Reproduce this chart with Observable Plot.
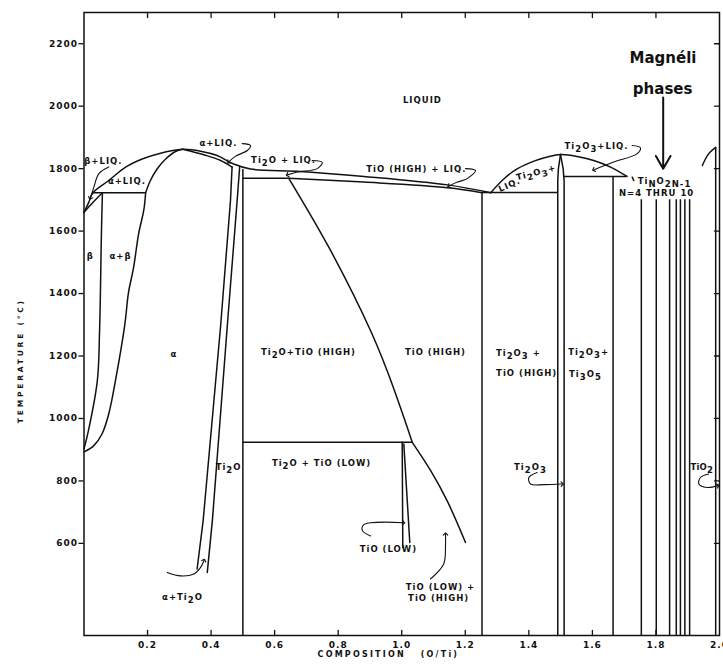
<!DOCTYPE html>
<html><head><meta charset="utf-8">
<script src="https://cdn.jsdelivr.net/npm/d3@7"></script>
<script src="https://cdn.jsdelivr.net/npm/@observablehq/plot@0.6"></script>
<style>
body{margin:0;background:#fff;overflow:hidden}
</style></head><body><div id="chart"></div>
<script>
// Ti–O phase diagram: temperature (°C) against composition (O/Ti atomic ratio)

// Axis ticks
const compTicks = [0.2, 0.4, 0.6, 0.8, 1.0, 1.2, 1.4, 1.6, 1.8, 2.0];
const tempTicks = [600, 800, 1000, 1200, 1400, 1600, 1800, 2000, 2200];
const tMin = 305;

// Curved phase boundaries, points as [O/Ti, °C]
const liquidus = [[0,1660],[0.015,1692],[0.028,1723],[0.078,1762],[0.131,1805],[0.183,1831],[0.235,1848],[0.31,1862],[0.367,1856],[0.419,1842],[0.471,1815],[0.524,1799],[0.681,1791],[0.881,1775],[1.144,1748],[1.28,1723]];
const betaSolidus = [[0,1660],[0.03,1694],[0.058,1723]];
const alphaSolidusLeft = [[0.194,1723],[0.209,1762],[0.230,1799],[0.257,1831],[0.288,1855],[0.31,1862]];
const alphaSolidusRight = [[0.31,1862],[0.382,1843],[0.430,1826],[0.466,1805]];
const betaTransus = [[0.058,1723],[0.055,1602],[0.049,1281],[0.042,1121],[0.014,961],[0,903]];
const alphaBetaBoundary = [[0.194,1723],[0.188,1666],[0.172,1592],[0.156,1483],[0.140,1403],[0.128,1297],[0.099,1121],[0.078,1015],[0.057,951],[0.031,913],[0,893]];
const tioHighSolidus = [[0.6445,1769],[0.881,1757],[1.144,1739],[1.2526,1723]];
const tioHighLeft = [[0.6445,1769],[0.776,1538],[0.902,1281],[0.954,1153],[1.0065,1004],[1.033,923.5]];
const tioLowHigh = [[1.033,923.5],[1.0915,832],[1.143,736],[1.2006,603]];
const ti2o3Liquidus = [[1.28,1723],[1.321,1767],[1.363,1799],[1.416,1824],[1.458,1837],[1.4996,1845],[1.552,1839],[1.604,1826],[1.657,1805],[1.709,1775]];
const tio2Liquidus = [[1.946,1810],[1.966,1848],[1.988,1868]];

// Straight phase boundaries
const alphaBoundary = [[0.466,1805],[0.461,1698],[0.430,1297],[0.375,673],[0.356,518]];
const ti2oLeft = [[0.490,1807],[0.482,1698],[0.451,1297],[0.404,673],[0.388,507]];
const tioLowLeft = [[1.0014,923.5],[1.0033,587]];
const tioLowRight = [[1.0065,918],[1.0253,603]];
const ti2o3Left = [[1.4996,1845],[1.493,1800],[1.491,1760],[1.491,tMin]];
const ti2o3Right = [[1.4996,1845],[1.508,1800],[1.511,1760],[1.511,tMin]];

// Invariant isotherms: [from O/Ti, to O/Ti, °C]
const isotherms = [[0.028,0.194,1723],[0.5,0.6445,1769],[0.5,1.033,923.5],[1.2526,1.491,1723.5],[1.511,1.709,1775]];

// Line compounds drawn down to the bottom of the diagram: [O/Ti, top °C]
const compounds = [[0.5,1797],[1.2526,1723.5],[1.665,1775],[1.988,1868]];
const magneliX = [1.754, 1.801, 1.843, 1.864, 1.877, 1.891, 1.906];
const magneliTop = 1700;

// Label leaders (curved, with arrowheads)
const leaders = {
  betaLiq: [[0.078,1805],[0.047,1784],[0.031,1741],[0.020,1705]],
  alphaLiq: [[0.498,1880],[0.524,1874],[0.514,1858],[0.477,1840],[0.455,1821]],
  ti2oLiq: [[0.718,1826],[0.750,1820],[0.734,1800],[0.671,1789],[0.64,1780]],
  tioHighLiq: [[1.2006,1800],[1.232,1794],[1.206,1768],[1.175,1757],[1.148,1744]],
  alphaTi2o: [[0.262,507],[0.304,496],[0.346,502],[0.367,523],[0.378,546]],
  tioLow: [[0.902,624],[0.876,641],[0.881,660],[1.006,666]],
  tioLowHigh: [[1.0905,486],[1.132,534],[1.1377,592],[1.1377,630]],
  ti2o3: [[1.426,827],[1.400,811],[1.405,790],[1.447,788],[1.505,790]],
  tio2: [[1.966,822],[1.940,811],[1.935,790],[1.961,779],[1.995,785]],
  ti2o3Liq: [[1.725,1874],[1.751,1867],[1.741,1848],[1.667,1821],[1.604,1796]]
};
const tick = [[1.7253,1772.6],[1.7303,1762]];

// Region labels; {…} marks a lowered index
const labels = [
  {x:1.065, t:2018, text:"LIQUID"},
  {x:0.061, t:1823, text:"β+LIQ."},
  {x:0.135, t:1760, text:"α+LIQ."},
  {x:0.423, t:1880, text:"α+LIQ."},
  {x:0.02, t:1518, text:"β"},
  {x:0.115, t:1518, text:"α+β"},
  {x:0.283, t:1207, text:"α"},
  {x:0.455, t:845, text:"Ti{2}O"},
  {x:0.31, t:428, text:"α+Ti{2}O"},
  {x:0.628, t:1828, text:"Ti{2}O + LIQ."},
  {x:1.046, t:1799, text:"TiO (HIGH) + LIQ."},
  {x:0.7065, t:1213, text:"Ti{2}O+TiO (HIGH)"},
  {x:1.106, t:1211, text:"TiO (HIGH)"},
  {x:0.7475, t:857, text:"Ti{2}O + TiO (LOW)"},
  {x:0.958, t:582, text:"TiO (LOW)"},
  {x:1.122, t:460, text:"TiO (LOW) +"},
  {x:1.116, t:425, text:"TiO (HIGH)"},
  {x:1.367, t:1210, text:"Ti{2}O{3} +"},
  {x:1.393, t:1144, text:"TiO (HIGH)"},
  {x:1.588, t:1213, text:"Ti{2}O{3}+"},
  {x:1.578, t:1140, text:"Ti{3}O{5}"},
  {x:1.405, t:845, text:"Ti{2}O{3}"},
  {x:1.944, t:845, text:"TiO{2}"},
  {x:1.613, t:1873, text:"Ti{2}O{3}+LIQ."},
  {x:1.827, t:1758, text:"Ti{N}O{2N-1}"},
  {x:1.802, t:1721, text:"N=4 THRU 10"}
];
const tiltedLabels = [
  {x:1.423, t:1787, text:"Ti{2}O{3}+", angle:-14},
  {x:1.339, t:1748, text:"LIQ.", angle:-24}
];
const note = [{x:1.822, t:2153, text:"Magnéli"}, {x:1.821, t:2053, text:"phases"}];
const noteArrow = [{x:1.8228, t1:2028, t2:1800}];

// Flatten named point lists into one long table
const toRows = (groups) => Object.entries(groups).flatMap(([id, pts]) => pts.map(([x, t]) => ({id, x, t})));
const smoothRows = toRows({liquidus, betaSolidus, alphaSolidusLeft, alphaSolidusRight, betaTransus, alphaBetaBoundary, tioHighSolidus, tioHighLeft, tioLowHigh, ti2o3Liquidus, tio2Liquidus});
const straightRows = toRows({alphaBoundary, ti2oLeft, tioLowLeft, tioLowRight, ti2o3Left, ti2o3Right, tick});
const leaderRows = toRows(leaders);
const isoRows = isotherms.map(([x1, x2, t]) => ({x1, x2, t}));
const compoundRows = [...compounds.map(([x, t]) => ({x, t})), ...magneliX.map(x => ({x, t: magneliTop}))];

const tickShape = {draw(context, l) { context.moveTo(0, 0); context.lineTo(0, -l); }};
const ink = "#111";

const chart = Plot.plot({
  width: 723, height: 664,
  marginLeft: 83.5, marginRight: 4, marginTop: 12, marginBottom: 29,
  x: {domain: [0, 2]},
  y: {domain: [tMin, 2300]},
  style: {fontFamily: "DejaVu Sans", fontSize: "8.5px", fontWeight: "bold", letterSpacing: "1px", background: "white", color: ink},
  marks: [
    Plot.frame({stroke: ink, strokeWidth: 1.5}),
    Plot.axisY(tempTicks, {anchor: "left", tickSize: 5, tickPadding: 1, label: null, tickFormat: d => String(d), fontSize: 9, strokeWidth: 1.3}),
    Plot.axisX(compTicks, {anchor: "bottom", tickSize: 0, tickPadding: 6, label: null, tickFormat: d => d.toFixed(1), fontSize: 9}),
    Plot.vector(compTicks.slice(0, -1), {x: d => d, frameAnchor: "bottom", length: 5, rotate: 0, anchor: "start", shape: tickShape, stroke: ink, strokeWidth: 1.3}),
    Plot.vector(compTicks.slice(0, -1), {x: d => d, frameAnchor: "top", length: 5, rotate: 180, anchor: "start", shape: tickShape, stroke: ink, strokeWidth: 1.3}),
    Plot.vector(tempTicks, {y: d => d, frameAnchor: "right", length: 5, rotate: 270, anchor: "start", shape: tickShape, stroke: ink, strokeWidth: 1.3}),
    Plot.text(["TEMPERATURE (°C)"], {frameAnchor: "left", textAnchor: "middle", y: [1185], dx: -63, rotate: -90, fontSize: 7.5, text: d => d}),
    Plot.text(["COMPOSITION   (O/Ti)"], {frameAnchor: "bottom", x: [0.958], dy: 21, fontSize: 8, text: d => d}),
    Plot.line(smoothRows, {x: "x", y: "t", z: "id", curve: "catmull-rom", stroke: ink, strokeWidth: 1.5}),
    Plot.line(straightRows, {x: "x", y: "t", z: "id", stroke: ink, strokeWidth: 1.5}),
    Plot.ruleY(isoRows, {x1: "x1", x2: "x2", y: "t", stroke: ink, strokeWidth: 1.5}),
    Plot.ruleX(compoundRows, {x: "x", y1: tMin, y2: "t", stroke: ink, strokeWidth: 1.5}),
    Plot.line(leaderRows, {x: "x", y: "t", z: "id", curve: "catmull-rom", stroke: ink, strokeWidth: 1.1, markerEnd: "arrow"}),
    Plot.text(labels, {x: "x", y: "t", text: "text"}),
    Plot.text(tiltedLabels, {x: "x", y: "t", text: "text", rotate: d => d.angle}),
    Plot.arrow(noteArrow, {x1: "x", x2: "x", y1: "t1", y2: "t2", stroke: ink, strokeWidth: 2, headLength: 11}),
    Plot.text(note, {x: "x", y: "t", text: "text", fontSize: 15, fontWeight: "bold"})
  ]
});

// Lowered indices: "Ti{2}O{3}" -> Ti, 2 (lowered), O, 3 (lowered)
d3.select(chart).selectAll("text").each(function () {
  const s = this.textContent;
  if (s === "Magnéli" || s === "phases") this.style.letterSpacing = "0px";
  if (s === "TiO{2}") this.style.letterSpacing = "0.2px";
  if (s === "TEMPERATURE (°C)") this.style.letterSpacing = "2.8px";
  if (s.startsWith("COMPOSITION")) this.style.letterSpacing = "2.2px";
  if (!s.includes("{")) return;
  this.textContent = "";
  let offset = 0;
  for (const part of s.split(/(\{[^}]*\})/).filter(Boolean)) {
    const low = part.startsWith("{");
    const target = low ? 0.35 : 0;
    const span = document.createElementNS("http://www.w3.org/2000/svg", "tspan");
    span.setAttribute("dy", `${target - offset}em`);
    span.textContent = low ? part.slice(1, -1) : part;
    this.appendChild(span);
    offset = target;
  }
});

document.getElementById("chart").appendChild(chart);
</script></body></html>
